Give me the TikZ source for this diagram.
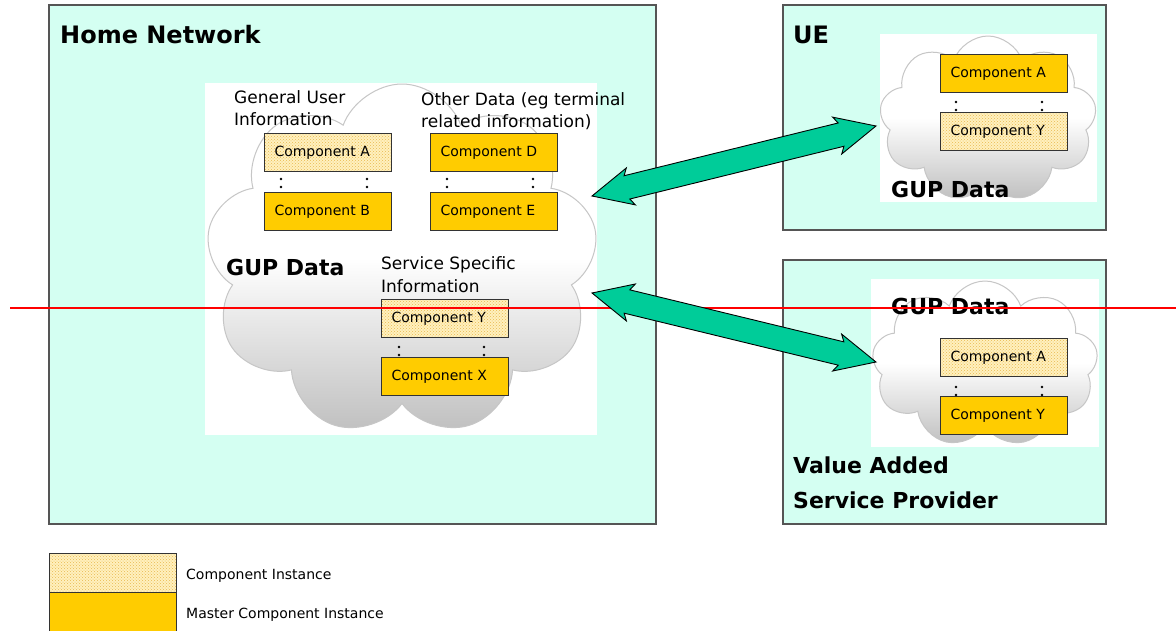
\documentclass[tikz,border=0pt]{standalone}
\usepackage{fontspec}
\setmainfont{DejaVu Sans}
\usetikzlibrary{shapes.symbols,calc,patterns}
\definecolor{netbg}{RGB}{212,255,242}
\definecolor{gold}{RGB}{255,204,0}
\definecolor{pale}{RGB}{255,240,190}
\definecolor{hatchc}{RGB}{232,186,80}
\definecolor{arrowteal}{RGB}{0,204,153}
\definecolor{edge}{RGB}{85,85,85}
\newcommand\dotpair[2]{\fill (#1,#2) circle (1.3pt); \fill (#1,#2+8) circle (1.3pt);}
\newcommand\twinarrow[2]{%
  \filldraw[arrowbody] (#1)
    -- ($(#1)!40pt!(#2)!19pt!90:(#2)$)
    -- ($(#1)!36pt!(#2)!12pt!90:(#2)$)
    -- ($(#2)!36pt!(#1)!12pt!-90:(#1)$)
    -- ($(#2)!40pt!(#1)!19pt!-90:(#1)$)
    -- (#2)
    -- ($(#2)!40pt!(#1)!19pt!90:(#1)$)
    -- ($(#2)!36pt!(#1)!12pt!90:(#1)$)
    -- ($(#1)!36pt!(#2)!12pt!-90:(#2)$)
    -- ($(#1)!40pt!(#2)!19pt!-90:(#2)$)
    -- cycle;}
\tikzset{
  zone/.style={draw=edge, line width=1.3pt, fill=netbg},
  blank/.style={fill=white, draw=none},
  gupcloud/.style={cloud, cloud puffs=9, cloud puff arc=140, cloud ignores aspect,
    draw=gray!45, line width=1pt, top color=white, bottom color=gray!50, middle color=white, inner sep=0pt},
  compbox/.style={rectangle, draw=black!80, line width=1pt, minimum width=127pt, minimum height=38pt,
    text width=107pt, inner xsep=10pt, inner ysep=0pt, align=left,
    font=\fontsize{14}{16}\selectfont, anchor=north west},
  master/.style={compbox, fill=gold},
  inst/.style={compbox, preaction={fill=pale}, pattern=crosshatch dots, pattern color=hatchc},
  legbox/.style={rectangle, draw=black!80, line width=1pt, minimum width=127pt, minimum height=39pt, anchor=north west, inner sep=0pt},
  title/.style={font=\fontsize{24}{28}\selectfont\bfseries, anchor=base west, inner sep=0pt},
  gup/.style={font=\fontsize{22}{26}\selectfont\bfseries, anchor=base west, inner sep=0pt},
  label/.style={font=\fontsize{17}{20}\selectfont, anchor=base west, inner sep=0pt},
  legtext/.style={font=\fontsize{14}{16}\selectfont, anchor=base west, inner sep=0pt},
  arrowbody/.style={fill=arrowteal, draw=black, line width=0.9pt, line join=miter},
}
\begin{document}
\begin{tikzpicture}[x=1pt,y=-1pt]
\useasboundingbox (0,0) rectangle (1176,630);
% zones
\draw[zone] (49,5) rectangle (656,524);
\draw[zone] (783,5) rectangle (1106,230);
\draw[zone] (783,260) rectangle (1106,524);
% white backgrounds
\fill[blank] (205,83) rectangle (597,435);
\fill[blank] (880,34) rectangle (1097,202);
\fill[blank] (871,279) rectangle (1099,447);
% clouds
\node[gupcloud, minimum width=392pt, minimum height=352pt] (hc) at (402,260) {};
\node[gupcloud, minimum width=217pt, minimum height=166pt] (uc) at (988,119) {};
\node[gupcloud, minimum width=226pt, minimum height=166pt] (vc) at (985,364) {};
% titles
\node[title] (hn) at (60,43) {Home Network};
\node[title] (ue) at (793,43) {UE};
\node[gup] (vas1) at (793,473) {Value Added};
\node[gup] (vas2) at (793,508) {Service Provider};
% home cloud labels
\node[label] (gu1) at (234,103) {General User};
\node[label] (gu2) at (234,125) {Information};
\node[label] (od1) at (421,105) {Other Data (eg terminal};
\node[label] (od2) at (421,127) {related information)};
\node[label] (ss1) at (381,269) {Service Specific};
\node[label] (ss2) at (381,292) {Information};
\node[gup] (hg) at (226,275) {GUP Data};
\node[gup] (ug) at (891,197) {GUP Data};
\node[gup] (vg) at (891,314) {GUP Data};
% components
\node[inst]   (ca) at (264,133) {Component A};
\node[master] (cb) at (264,192) {Component B};
\node[master] (cd) at (430,133) {Component D};
\node[master] (ce) at (430,192) {Component E};
\node[inst]   (cy) at (381,299) {Component Y};
\node[master] (cx) at (381,357) {Component X};
\node[master] (uca) at (940,54) {Component A};
\node[inst]   (ucy) at (940,112) {Component Y};
\node[inst]   (vca) at (940,338) {Component A};
\node[master] (vcy) at (940,396) {Component Y};
% dots
\dotpair{281}{179}\dotpair{367}{179}
\dotpair{447}{179}\dotpair{533}{179}
\dotpair{399}{347}\dotpair{484}{347}
\dotpair{956}{102}\dotpair{1042}{102}
\dotpair{956}{387}\dotpair{1042}{387}
% red line
\coordinate (r1) at (10,308);
\coordinate (r2) at (1176,308);
\draw[red, line width=1.2pt] (r1) -- (r2);
% arrows
\coordinate (a1) at (592,196);
\coordinate (b1) at (876,126);
\coordinate (a2) at (592,293);
\coordinate (b2) at (876,362);
\twinarrow{a1}{b1}
\twinarrow{a2}{b2}
% legend
\node[legbox, preaction={fill=pale}, pattern=crosshatch dots, pattern color=hatchc] (li) at (49,553) {};
\node[legbox, fill=gold, minimum height=42pt] (lm) at (49,592) {};
\node[legtext] (lt1) at (186,579) {Component Instance};
\node[legtext] (lt2) at (186,618) {Master Component Instance};
\end{tikzpicture}
\end{document}
